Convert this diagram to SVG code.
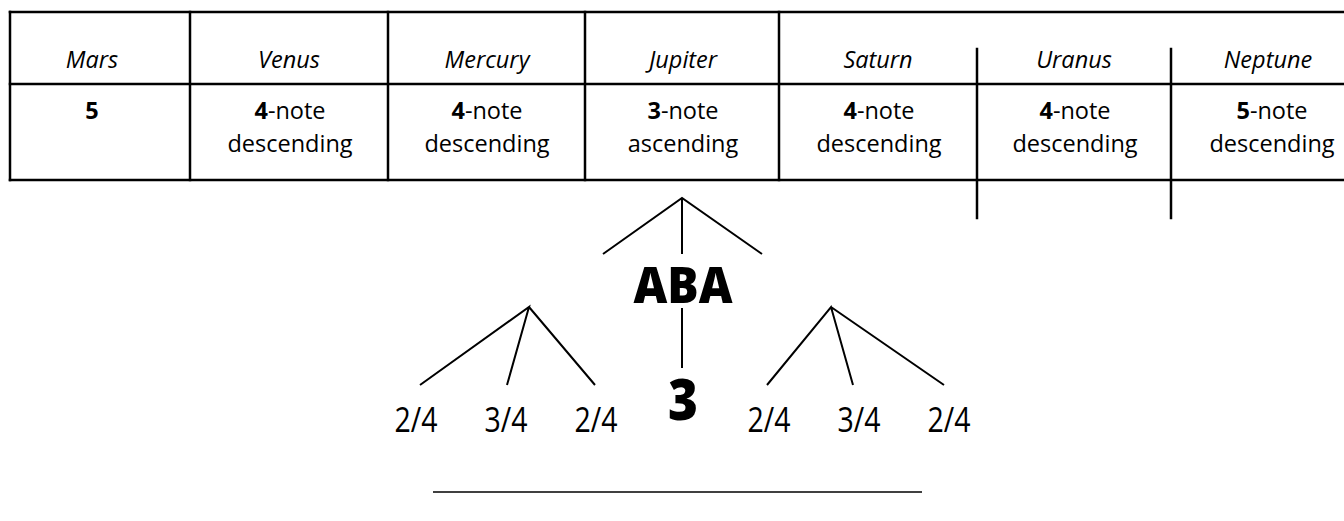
<svg xmlns="http://www.w3.org/2000/svg" width="1344" height="521" viewBox="0 0 1344 521">
  <style>
    .rule { stroke: #000; stroke-width: 2.5; fill: none; stroke-linecap: square; }
    .branch { stroke: #000; stroke-width: 2; fill: none; }
    .hdr { font-family: "Open Sans", "Noto Sans", sans-serif; font-size: 23.5px; font-style: italic; text-anchor: middle; fill: #000; }
    .cell { font-family: "Open Sans", "Noto Sans", sans-serif; font-size: 23.5px; text-anchor: middle; fill: #000; }
    .num { font-weight: 700; }
    .big { font-family: "Open Sans", "Noto Sans", sans-serif; font-weight: 800; text-anchor: middle; fill: #000; }
    .frac { font-family: "Open Sans", "Noto Sans", sans-serif; font-size: 34px; text-anchor: middle; fill: #000; }
  </style>

  <!-- planet table -->
  <g id="table">
    <line class="rule" x1="10" y1="12" x2="1344" y2="12"/>
    <line class="rule" x1="10" y1="84" x2="1344" y2="84"/>
    <line class="rule" x1="10" y1="180" x2="1344" y2="180"/>
    <line class="rule" x1="10" y1="12" x2="10" y2="180"/>
    <line class="rule" x1="190" y1="12" x2="190" y2="180"/>
    <line class="rule" x1="388" y1="12" x2="388" y2="180"/>
    <line class="rule" x1="585" y1="12" x2="585" y2="180"/>
    <line class="rule" x1="779" y1="12" x2="779" y2="180"/>
    <line class="rule" x1="977" y1="49" x2="977" y2="218"/>
    <line class="rule" x1="1171" y1="49" x2="1171" y2="218"/>
  </g>

  <g id="mars">
    <text class="hdr" x="92" y="68">Mars</text>
    <text class="cell num" x="92" y="119">5</text>
  </g>
  <g id="venus">
    <text class="hdr" x="289" y="68">Venus</text>
    <text class="cell" x="290" y="119"><tspan class="num">4</tspan>-note</text>
    <text class="cell" x="290" y="152">descending</text>
  </g>
  <g id="mercury">
    <text class="hdr" x="487" y="68">Mercury</text>
    <text class="cell" x="487" y="119"><tspan class="num">4</tspan>-note</text>
    <text class="cell" x="487" y="152">descending</text>
  </g>
  <g id="jupiter">
    <text class="hdr" x="683" y="68">Jupiter</text>
    <text class="cell" x="683" y="119"><tspan class="num">3</tspan>-note</text>
    <text class="cell" x="683" y="152">ascending</text>
  </g>
  <g id="saturn">
    <text class="hdr" x="878" y="68">Saturn</text>
    <text class="cell" x="879" y="119"><tspan class="num">4</tspan>-note</text>
    <text class="cell" x="879" y="152">descending</text>
  </g>
  <g id="uranus">
    <text class="hdr" x="1074" y="68">Uranus</text>
    <text class="cell" x="1075" y="119"><tspan class="num">4</tspan>-note</text>
    <text class="cell" x="1075" y="152">descending</text>
  </g>
  <g id="neptune">
    <text class="hdr" x="1268" y="68">Neptune</text>
    <text class="cell" x="1272" y="119"><tspan class="num">5</tspan>-note</text>
    <text class="cell" x="1272" y="152">descending</text>
  </g>

  <!-- form breakdown -->
  <g id="aba">
    <text class="big" x="683" y="303" font-size="50" textLength="99" lengthAdjust="spacingAndGlyphs">ABA</text>
  </g>
  <g id="middle-3">
    <text class="big" x="683" y="420" font-size="56" textLength="30" lengthAdjust="spacingAndGlyphs">3</text>
  </g>
  <g id="left-group">
    <text class="frac" x="416" y="432" textLength="43" lengthAdjust="spacingAndGlyphs">2/4</text>
    <text class="frac" x="506" y="432" textLength="43" lengthAdjust="spacingAndGlyphs">3/4</text>
    <text class="frac" x="596" y="432" textLength="43" lengthAdjust="spacingAndGlyphs">2/4</text>
  </g>
  <g id="right-group">
    <text class="frac" x="769" y="432" textLength="43" lengthAdjust="spacingAndGlyphs">2/4</text>
    <text class="frac" x="859" y="432" textLength="43" lengthAdjust="spacingAndGlyphs">3/4</text>
    <text class="frac" x="949" y="432" textLength="43" lengthAdjust="spacingAndGlyphs">2/4</text>
  </g>

  <!-- connectors -->
  <g id="connectors">
    <path class="branch" d="M603 254 L682 198 L762 254 M682 198 L682 254"/>
    <path class="branch" d="M682 308 L682 368"/>
    <path class="branch" d="M420 385 L529 307 L507 385 M529 307 L595 385"/>
    <path class="branch" d="M767 385 L831 307 L853 385 M831 307 L944 385"/>
    <line x1="433" y1="492" x2="922" y2="492" stroke="#000" stroke-width="1.5"/>
  </g>
</svg>
